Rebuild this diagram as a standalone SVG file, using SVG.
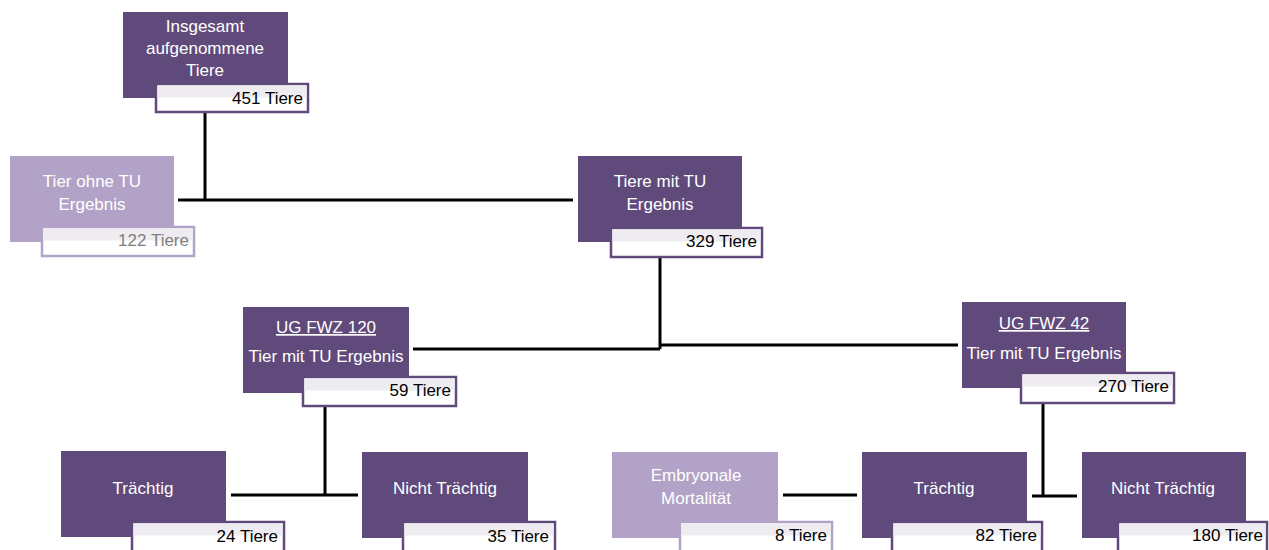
<svg xmlns="http://www.w3.org/2000/svg" width="1269" height="550" viewBox="0 0 1269 550">
<style>
.d{fill:#604a7b}
.l{fill:#b3a2c7}
.cb{fill:#fff;stroke:#604a7b;stroke-width:2.5}
.cbl{fill:#fff;stroke:#b3a2c7;stroke-width:2.5}
.sh{fill:#eeecf1}
.t{font-family:"Liberation Sans",Arial,sans-serif;font-size:17px;fill:#fff;text-anchor:middle}
.c{font-family:"Liberation Sans",Arial,sans-serif;font-size:17px;fill:#000;text-anchor:end}
.cg{fill:#7f7f7f}
.u{text-decoration:underline}
#connectors path{stroke:#000;stroke-width:3;fill:none}
</style>
<rect width="1269" height="550" fill="#fff"/>
<g id="connectors">
<path d="M205 113V200M178 200H573"/>
<path d="M660 258V349M413 349H660M660 345H958"/>
<path d="M325 407V495M231 495H358"/>
<path d="M783 495H857"/>
<path d="M1043 404V496M1032 496H1077"/>
</g>
<g id="n1">
<rect class="d" x="123" y="12" width="165" height="86"/>
<text class="t" x="205" y="32">Insgesamt</text>
<text class="t" x="205" y="54">aufgenommene</text>
<text class="t" x="205" y="76">Tiere</text>
<rect class="cb" x="156" y="84" width="152" height="28"/>
<rect class="sh" x="157.5" y="85.5" width="149" height="12"/>
<text class="c" x="303" y="104">451 Tiere</text>
</g>
<g id="n2">
<rect class="l" x="10" y="156" width="164" height="86"/>
<text class="t" x="92" y="187">Tier ohne TU</text>
<text class="t" x="92" y="210">Ergebnis</text>
<rect class="cbl" x="42" y="227" width="152" height="29"/>
<rect class="sh" x="43.5" y="228.5" width="149" height="12"/>
<text class="c cg" x="189" y="246">122 Tiere</text>
</g>
<g id="n3">
<rect class="d" x="578" y="156" width="164" height="86"/>
<text class="t" x="660" y="187">Tiere mit TU</text>
<text class="t" x="660" y="210">Ergebnis</text>
<rect class="cb" x="611" y="228" width="151" height="29"/>
<rect class="sh" x="612.5" y="229.5" width="148" height="12"/>
<text class="c" x="757" y="247">329 Tiere</text>
</g>
<g id="n4">
<rect class="d" x="243" y="307" width="166" height="86"/>
<text class="t u" x="326" y="333">UG FWZ 120</text>
<text class="t" x="326" y="362">Tier mit TU Ergebnis</text>
<rect class="cb" x="303" y="377" width="153" height="29"/>
<rect class="sh" x="304.5" y="378.5" width="150" height="12"/>
<text class="c" x="451" y="396">59 Tiere</text>
</g>
<g id="n5">
<rect class="d" x="962" y="302" width="164" height="86"/>
<text class="t u" x="1044" y="329">UG FWZ 42</text>
<text class="t" x="1044" y="359">Tier mit TU Ergebnis</text>
<rect class="cb" x="1021" y="373" width="153" height="30"/>
<rect class="sh" x="1022.5" y="374.5" width="150" height="12"/>
<text class="c" x="1169" y="392">270 Tiere</text>
</g>
<g id="b1">
<rect class="d" x="61" y="451" width="165" height="86"/>
<text class="t" x="143" y="494">Trächtig</text>
<rect class="cb" x="132" y="522" width="152" height="30"/>
<rect class="sh" x="133.5" y="523.5" width="149" height="12"/>
<text class="c" x="278" y="542">24 Tiere</text>
</g>
<g id="b2">
<rect class="d" x="362" y="452" width="166" height="86"/>
<text class="t" x="445" y="494">Nicht Trächtig</text>
<rect class="cb" x="403" y="522" width="152" height="30"/>
<rect class="sh" x="404.5" y="523.5" width="149" height="12"/>
<text class="c" x="549" y="542">35 Tiere</text>
</g>
<g id="b3">
<rect class="l" x="612" y="452" width="166" height="86"/>
<text class="t" x="696" y="481">Embryonale</text>
<text class="t" x="696" y="504">Mortalität</text>
<rect class="cbl" x="680" y="522" width="152" height="30"/>
<rect class="sh" x="681.5" y="523.5" width="149" height="12"/>
<text class="c" x="827" y="541">8 Tiere</text>
</g>
<g id="b4">
<rect class="d" x="862" y="452" width="165" height="86"/>
<text class="t" x="944" y="494">Trächtig</text>
<rect class="cb" x="892" y="522" width="150" height="30"/>
<rect class="sh" x="893.5" y="523.5" width="147" height="12"/>
<text class="c" x="1037" y="541">82 Tiere</text>
</g>
<g id="b5">
<rect class="d" x="1082" y="452" width="164" height="86"/>
<text class="t" x="1163" y="494">Nicht Trächtig</text>
<rect class="cb" x="1118" y="522" width="149" height="30"/>
<rect class="sh" x="1119.5" y="523.5" width="146" height="12"/>
<text class="c" x="1263" y="541">180 Tiere</text>
</g>
</svg>
